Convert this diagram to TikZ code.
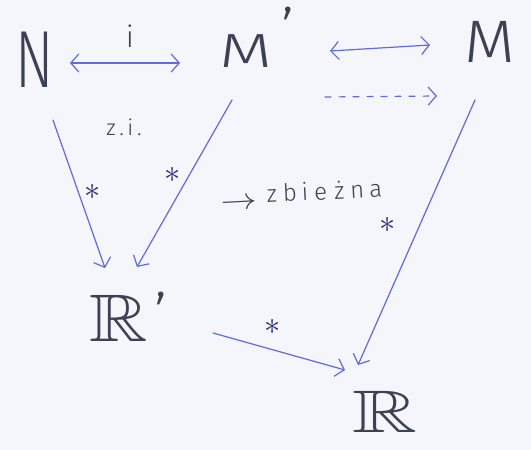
\documentclass[tikz,border=0pt]{standalone}
\usepackage{fontspec}
\usepackage{amssymb}
\usepackage{graphicx}
\usetikzlibrary{arrows.meta}
\newfontfamily\handfont{Fira Sans Light}
\definecolor{bg}{RGB}{245,245,252}
\definecolor{ink}{RGB}{96,106,218}
\definecolor{pencil}{RGB}{62,64,84}
\definecolor{stardark}{RGB}{45,45,125}
\tikzset{
  >={Straight Barb[length=8pt,width=18pt]},
  lbl/.style={inner sep=0pt, text=pencil, font=\handfont\fontsize{60}{60}\selectfont},
  primelbl/.style={inner sep=0pt, anchor=base, text=pencil, font=\handfont\fontsize{60}{60}\selectfont},
  starlbl/.style={inner sep=0pt, text=stardark, font=\fontsize{30}{30}\selectfont},
  smalllbl/.style={inner sep=0pt, text=pencil, font=\handfont\fontsize{22}{22}\selectfont},
  conn/.style={draw=ink, line width=1.2pt, line cap=round, ->},
  dconn/.style={draw=ink, line width=1.2pt, line cap=round, <->},
  dashconn/.style={draw=ink, line width=1.2pt, line cap=round, ->, dash pattern=on 6pt off 8pt},
}
\begin{document}
\begin{tikzpicture}[x=1pt,y=-1pt]
\fill[bg] (0,0) rectangle (531,450);
\useasboundingbox (0,0) rectangle (531,450);
% main labels
\node[lbl] (N)  at (35,60)  {\scalebox{0.95}[1.35]{N}};
\node[lbl] (Mp) at (246,51) {\scalebox{1.15}[0.8]{M}};
\node[primelbl] (Mpp) at (288,51) {’};
\node[lbl] (M)  at (490,42) {\scalebox{1.1}[1.0]{M}};
\node[lbl] (R1) at (119,318) {\scalebox{1.35}[1.12]{$\mathbb{R}$}};
\node[primelbl] (R1p) at (161,336) {’};
\node[lbl] (R2) at (385,412) {\scalebox{1.5}[1.0]{$\mathbb{R}$}};
% small texts
\node[smalllbl, font=\handfont\fontsize{30}{30}\selectfont] (i) at (130,36) {i};
\node[smalllbl] (zi) at (124,127) {z\,.\,i\,.};
\node[smalllbl, anchor=base west, rotate=3, font=\handfont\fontsize{24}{24}\selectfont] (zb) at (221,205)
  {\raisebox{-6pt}{\scalebox{1.45}[1.2]{$\rightarrow$}}\hspace{10pt}z\hspace{6pt}b\hspace{5pt}i\hspace{6pt}e\hspace{7pt}ż\hspace{6pt}n\hspace{5pt}a};
% stars
\node[starlbl] (s1) at (93,192)  {\scalebox{1.3}{$\ast$}};
\node[starlbl] (s2) at (173,175) {\scalebox{1.3}{$\ast$}};
\node[starlbl] (s3) at (388,225) {\scalebox{1.3}{$\ast$}};
\node[starlbl] (s4) at (273,327) {\scalebox{1.3}{$\ast$}};
% connectors
\draw[dconn] ([shift={(35,3)}]N.center) -- ([shift={(-66,12)}]Mp.center);
\draw[dconn] ([shift={(84,0)}]Mp.center) -- ([shift={(-60,3)}]M.center);
\draw[dashconn] ([shift={(79,46)}]Mp.center) -- ([shift={(-53,54)}]M.center);
\draw[conn] ([shift={(18,60)}]N.center) -- ([shift={(-14,-50)}]R1.center);
\draw[conn] ([shift={(-14,49)}]Mp.center) -- ([shift={(18,-51)}]R1.center);
\draw[conn] ([shift={(94,15)}]R1.center) -- ([shift={(-40,-42)}]R2.center);
\draw[conn] ([shift={(-15,58)}]M.center) -- ([shift={(-27,-47)}]R2.center);
\end{tikzpicture}
\end{document}
